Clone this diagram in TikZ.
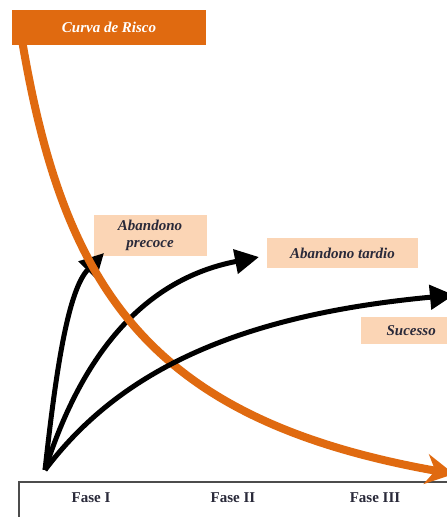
\documentclass[tikz,border=0pt]{standalone}
\usepackage{fontspec}
\setmainfont{Liberation Serif}
\usetikzlibrary{arrows.meta}
\definecolor{riskorange}{HTML}{E06A10}
\definecolor{peach}{HTML}{FBD5B5}
\definecolor{labeltext}{HTML}{2A2A3A}
\tikzset{
  labelbox/.style={fill=peach, draw=none, inner sep=0pt, font=\bfseries\itshape\fontsize{15}{17}\selectfont, text=labeltext, align=center},
  path arrow/.style={line width=5pt, draw=black, -{Triangle[length=24pt,width=24pt]}},
  risk arrow/.style={line width=8pt, draw=riskorange, -{Stealth[length=28pt,width=30pt,inset=9pt]}},
  phase/.style={font=\bfseries\fontsize{15}{17}\selectfont, text=labeltext}
}
\begin{document}
\begin{tikzpicture}[x=1pt,y=-1pt]
\useasboundingbox (0,0) rectangle (447,517);
\fill[white] (0,0) rectangle (447,517);

% label boxes
\node[labelbox, minimum width=113pt, minimum height=41pt] (early) at (150,235.5) {Abandono\\precoce};
\node[labelbox, minimum width=151pt, minimum height=30pt] (late) at (342.5,253) {Abandono tardio};
\node[labelbox, minimum width=100pt, minimum height=27pt, anchor=west, text width=86pt, align=center] (success) at (361,330.5) {Sucesso};

% phase table
\draw[line width=1.2pt, draw=black!70] (19,482) rectangle (460,530);
\node[phase] (f1) at (91,498) {Fase I};
\node[phase] (f2) at (233,498) {Fase II};
\node[phase] (f3) at (375,498) {Fase III};

% origin and arrow ends
\coordinate (o) at (45,470);
\coordinate (e1) at (104,253);
\coordinate (e2) at (259,257);
\coordinate (e3) at (454,295);

% early and late dropout paths, under the risk curve
\draw[path arrow] (o) .. controls (56,370) and (68,290) .. (e1);
\draw[path arrow] (o) .. controls (80,360) and (140,280) .. (e2);

% risk curve
\coordinate (r0) at (22,40);
\coordinate (r1) at (454,474);
\draw[risk arrow] (r0) .. controls (64,290) and (150,420) .. (r1);

% success path, over the risk curve
\draw[path arrow] (o) .. controls (120,370) and (240,315) .. (e3);

% title box
\node[fill=riskorange, minimum width=194pt, minimum height=35pt, inner sep=0pt, text=white, font=\bfseries\itshape\fontsize{15}{17}\selectfont] (title) at (109,27.5) {Curva de Risco};
\end{tikzpicture}
\end{document}
